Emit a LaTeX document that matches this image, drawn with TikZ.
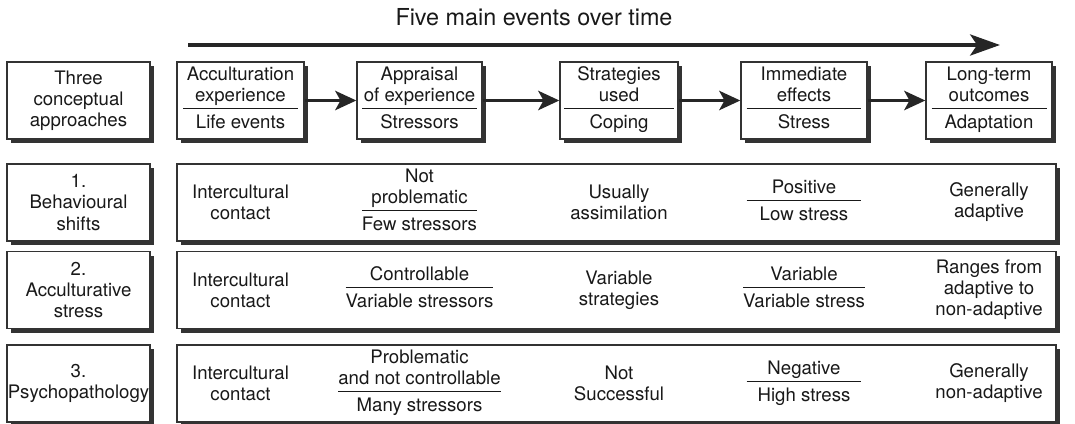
\documentclass[tikz,border=0pt]{standalone}
\usepackage{fontspec}
\setmainfont{TeX Gyre Heros}
\usepackage{array}
\usetikzlibrary{positioning,arrows.meta,shadows}
\newcolumntype{C}[1]{>{\centering\arraybackslash}p{#1}}
\newcommand{\splitcell}[3]{\begin{tabular}{@{}#1@{}}#2\\\hline\rule{0pt}{11pt}#3\end{tabular}}
\setlength{\arrayrulewidth}{0.7pt}

\begin{document}
\begin{tikzpicture}[
    x=0.02cm, y=-0.02cm,
    box/.style={
        draw=black!80,
        line width=0.8pt,
        fill=white,
        drop shadow={shadow xshift=2.3pt, shadow yshift=-2.3pt, fill=black!80, opacity=1},
        minimum height=1.54cm,
        inner sep=0pt,
        align=center,
        text=black!90,
        font=\fontsize{10.6}{12}\selectfont
    },
    cell/.style={
        align=center,
        inner sep=0pt,
        text=black!90,
        font=\fontsize{10.6}{12}\selectfont
    },
    arr/.style={
        -{Stealth[length=12pt,width=11pt,inset=3pt]},
        line width=1.7pt,
        black!85
    },
    bigarr/.style={
        -{Stealth[length=17pt,width=12pt,inset=4pt]},
        line width=2.2pt,
        black!85
    }
]
\useasboundingbox (0,0) rectangle (1075,423);

% ---------------- Time line ----------------
\node[font=\fontsize{13.3}{15}\selectfont, text=black!90] (title) at (534,17) {Five main events over time};
\coordinate (tstart) at (188,45);
\coordinate (tend) at (1000,45);
\draw[bigarr] (tstart) -- (tend);

% ---------------- Header boxes ----------------
\node[box, minimum width=2.86cm] (approach) at (78.5,100.5) {Three\\conceptual\\approaches};
\node[box, minimum width=2.54cm] (ev1) at (240.5,100.5) {\splitcell{C{2.3cm}}{Acculturation\\experience}{Life events}};
\node[box, minimum width=2.5cm] (ev2) at (419.5,100.5) {\splitcell{C{2.3cm}}{Appraisal\\of experience}{Stressors}};
\node[box, minimum width=2.36cm] (ev3) at (619,100.5) {\splitcell{C{2.2cm}}{Strategies\\used}{Coping}};
\node[box, minimum width=2.52cm] (ev4) at (804,100.5) {\splitcell{C{2.3cm}}{Immediate\\effects}{Stress}};
\node[box, minimum width=2.52cm] (ev5) at (989,100.5) {\splitcell{C{2.3cm}}{Long-term\\outcomes}{Adaptation}};

\draw[arr] (ev1) -- (ev2);
\draw[arr] (ev2) -- (ev3);
\draw[arr] (ev3) -- (ev4);
\draw[arr] (ev4) -- (ev5);

% ---------------- 1. Behavioural shifts ----------------
\node[box, minimum width=2.86cm] (lab1) at (78.5,202.5) {1.\\Behavioural\\shifts};
\node[box, minimum width=17.58cm] (row1) at (616.5,202.5) {};
\node[cell] (c11) at (ev1 |- row1) {Intercultural\\contact};
\node[cell] (c12) at (ev2 |- row1) {\splitcell{c}{Not\\problematic}{Few stressors}};
\node[cell] (c13) at (ev3 |- row1) {Usually\\assimilation};
\node[cell] (c14) at (ev4 |- row1) {\splitcell{c}{\makebox[2.3cm]{Positive}}{Low stress}};
\node[cell] (c15) at (ev5 |- row1) {Generally\\adaptive};

% ---------------- 2. Acculturative stress ----------------
\node[box, minimum width=2.86cm] (lab2) at (78.5,290) {2.\\Acculturative\\stress};
\node[box, minimum width=17.58cm] (row2) at (616.5,290) {};
\node[cell] (c21) at (ev1 |- row2) {Intercultural\\contact};
\node[cell] (c22) at (ev2 |- row2) {\splitcell{c}{Controllable}{Variable stressors}};
\node[cell] (c23) at (ev3 |- row2) {Variable\\strategies};
\node[cell] (c24) at (ev4 |- row2) {\splitcell{c}{\makebox[2.3cm]{Variable}}{Variable stress}};
\node[cell] (c25) at (ev5 |- row2) {Ranges from\\adaptive to\\non-adaptive};

% ---------------- 3. Psychopathology ----------------
\node[box, minimum width=2.86cm] (lab3) at (78.5,383.5) {3.\\Psychopathology};
\node[box, minimum width=17.58cm] (row3) at (616.5,383.5) {};
\node[cell] (c31) at (ev1 |- row3) {Intercultural\\contact};
\node[cell] (c32) at (ev2 |- row3) {\splitcell{c}{Problematic\\and not controllable}{Many stressors}};
\node[cell] (c33) at (ev3 |- row3) {Not\\Successful};
\node[cell] (c34) at (ev4 |- row3) {\splitcell{c}{\makebox[2.3cm]{Negative}}{High stress}};
\node[cell] (c35) at (ev5 |- row3) {Generally\\non-adaptive};

\end{tikzpicture}
\end{document}
